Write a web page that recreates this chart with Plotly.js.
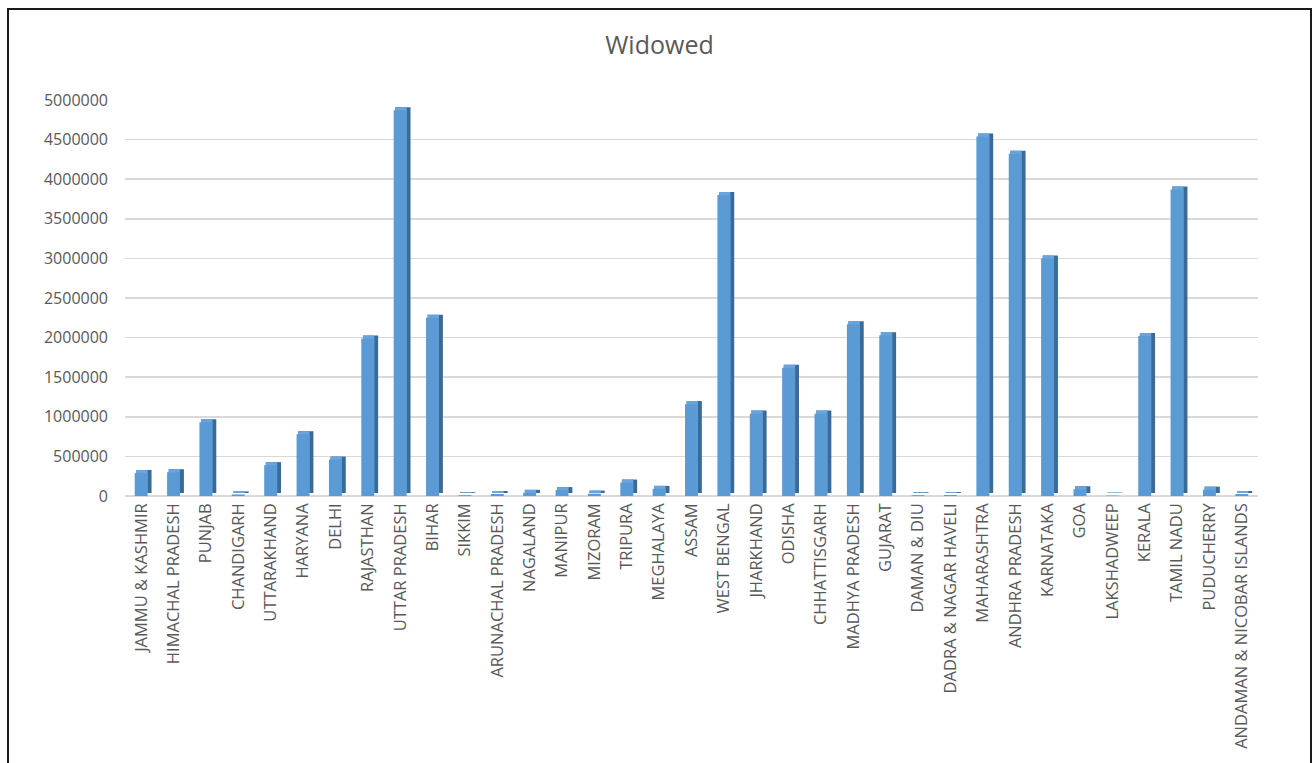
<!DOCTYPE html>
<html>
<head>
<meta charset="utf-8">
<script src="https://cdn.plot.ly/plotly-3.0.1.min.js"></script>
<style>
  html, body { margin: 0; padding: 0; background: #ffffff; width: 1312px; height: 763px; overflow: hidden; }
  #frame { position: absolute; left: 7px; top: 8px; width: 1301px; height: 760px;
           border-left: 2px solid #1a1a1a; border-top: 2px solid #1a1a1a; border-right: 2px solid #1a1a1a; }
  #chart { width: 1301px; height: 754px; }
</style>
</head>
<body>
<div id="frame"><div id="chart"></div></div>
<script>
const states = [
  "JAMMU & KASHMIR", "HIMACHAL PRADESH", "PUNJAB", "CHANDIGARH", "UTTARAKHAND",
  "HARYANA", "DELHI", "RAJASTHAN", "UTTAR PRADESH", "BIHAR", "SIKKIM",
  "ARUNACHAL PRADESH", "NAGALAND", "MANIPUR", "MIZORAM", "TRIPURA", "MEGHALAYA",
  "ASSAM", "WEST BENGAL", "JHARKHAND", "ODISHA", "CHHATTISGARH", "MADHYA PRADESH",
  "GUJARAT", "DAMAN & DIU", "DADRA & NAGAR HAVELI", "MAHARASHTRA", "ANDHRA PRADESH",
  "KARNATAKA", "GOA", "LAKSHADWEEP", "KERALA", "TAMIL NADU", "PUDUCHERRY",
  "ANDAMAN & NICOBAR ISLANDS"
];
const widowed = [
  290000, 300000, 930000, 20000, 390000,
  780000, 460000, 1990000, 4870000, 2250000, 10000,
  25000, 40000, 75000, 30000, 170000, 90000,
  1160000, 3800000, 1040000, 1620000, 1040000, 2170000,
  2030000, 10000, 12000, 4540000, 4320000,
  3000000, 85000, 5000, 2020000, 3870000, 80000,
  25000
];
const yTicks = [0, 500000, 1000000, 1500000, 2000000, 2500000, 3000000, 3500000, 4000000, 4500000, 5000000];

const depthShift = 38000; // 3-D depth lift (style)

const sideTrace = {
  type: 'bar', x: states, y: widowed, base: depthShift,
  offset: -0.15, width: 0.47,
  marker: { color: '#3a6a98', line: { width: 0 } },
  hoverinfo: 'skip', showlegend: false
};
const topTrace = {
  type: 'bar', x: states, y: widowed, base: depthShift,
  offset: -0.15, width: 0.35,
  marker: { color: '#6aa4dc', line: { width: 0 } },
  hoverinfo: 'skip', showlegend: false
};
const frontTrace = {
  type: 'bar', x: states, y: widowed,
  offset: -0.2, width: 0.4,
  marker: { color: '#5b9bd5', line: { width: 0 } },
  name: 'Widowed', showlegend: false
};

const layout = {
  width: 1301, height: 754,
  paper_bgcolor: '#ffffff', plot_bgcolor: '#ffffff',
  margin: { l: 116, r: 52, t: 90, b: 268 },
  barmode: 'overlay',
  title: {
    text: 'Widowed',
    font: { family: 'Open Sans, sans-serif', size: 25, color: '#595959' },
    x: 0.5, xref: 'container', xanchor: 'center',
    y: 0.953, yref: 'container', yanchor: 'middle'
  },
  font: { family: 'Open Sans, sans-serif', color: '#595959' },
  xaxis: {
    type: 'category',
    tickangle: -90,
    tickfont: { family: 'Open Sans, sans-serif', size: 16.5, color: '#595959' },
    ticks: '', showgrid: false, showline: false, zeroline: false,
    ticklabelstandoff: 3,
    range: [-0.5, states.length - 0.5]
  },
  yaxis: {
    range: [0, 5000000],
    tickvals: yTicks,
    ticktext: yTicks.map(v => String(v)),
    tickfont: { family: 'Open Sans, sans-serif', size: 16, color: '#595959' },
    showgrid: true, gridcolor: '#d9d9d9', gridwidth: 1.5,
    zeroline: true, zerolinecolor: '#d9d9d9', zerolinewidth: 1.5,
    showline: false, ticks: '',
    ticklabelstandoff: 16
  }
};

Plotly.newPlot('chart', [sideTrace, topTrace, frontTrace], layout, { displayModeBar: false, staticPlot: true });
</script>
</body>
</html>
